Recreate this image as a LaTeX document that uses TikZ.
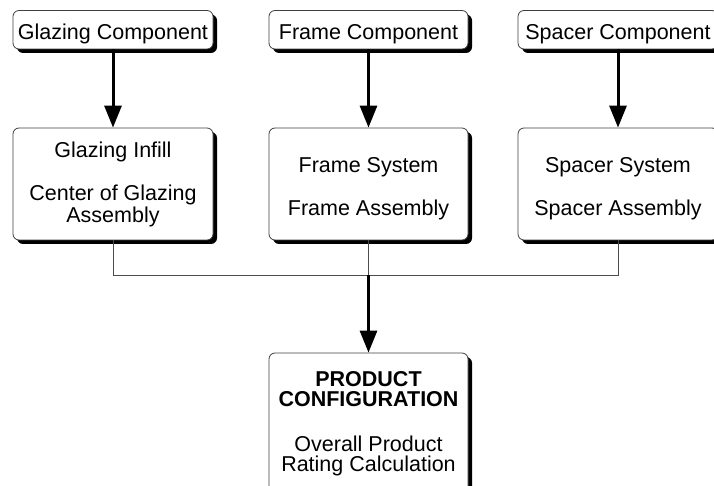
\documentclass[tikz,border=0pt]{standalone}
\usepackage{fontspec}
\setmainfont{Liberation Sans}
\usetikzlibrary{arrows.meta,shadows}
\begin{document}
\begin{tikzpicture}[x=1pt,y=-1pt,
  box/.style={draw=black!75, line width=0.8pt, rounded corners=6pt, fill=white,
    drop shadow={shadow xshift=4pt, shadow yshift=-4pt, opacity=1, fill=black},
    minimum width=200pt, inner sep=0pt},
  txt/.style={anchor=base, inner sep=0pt, font=\fontsize{21.5}{22}\selectfont},
  btxt/.style={txt, font=\fontsize{21.5}{22}\selectfont\bfseries},
  arr/.style={line width=3pt, -{Triangle[length=22pt,width=17pt]}},
  conn/.style={line width=1pt, draw=black!70}]
\useasboundingbox (0,0) rectangle (714,486);
% top row
\node[box, minimum height=38.5pt] (g1) at (113,29.75) {};
\node[box, minimum height=38.5pt, minimum width=199pt] (f1) at (368.5,29.75) {};
\node[box, minimum height=38.5pt] (s1) at (618,29.75) {};
% middle row
\node[box, minimum height=112pt] (g2) at (113,184) {};
\node[box, minimum height=112pt, minimum width=199pt] (f2) at (368.5,184) {};
\node[box, minimum height=112pt] (s2) at (618,184) {};
% bottom
\node[box, minimum height=167pt, minimum width=199pt] (pc) at (368.5,436.5) {};
% texts
\node[txt] (tg1) at (113,39.3) {Glazing Component};
\node[txt] (tf1) at (368.5,39.3) {Frame Component};
\node[txt] (ts1) at (618,39.3) {Spacer Component};
\node[txt] (tg2a) at (113,157.5) {Glazing Infill};
\node[txt] (tg2b) at (113,200.5) {Center of Glazing};
\node[txt] (tg2c) at (113,222.5) {Assembly};
\node[txt] (tf2a) at (368.5,172.3) {Frame System};
\node[txt] (tf2b) at (368.5,215.7) {Frame Assembly};
\node[txt] (ts2a) at (618,172.3) {Spacer System};
\node[txt] (ts2b) at (618,215.7) {Spacer Assembly};
\node[btxt] (tpa) at (368.5,386) {PRODUCT};
\node[btxt] (tpb) at (368.5,406.7) {CONFIGURATION};
\node[txt] (tpc) at (368.5,451) {Overall Product};
\node[txt] (tpd) at (368.5,471.7) {Rating Calculation};
% connectors
\coordinate (j) at (368.5,275);
\draw[arr] (g1.south) -- (g2.north);
\draw[arr] (f1.south) -- (f2.north);
\draw[arr] (s1.south) -- (s2.north);
\draw[conn] (g2.south) -- (g2.south |- j) -- (s2.south |- j) -- (s2.south);
\draw[conn] (f2.south) -- (j);
\draw[arr] (j) -- (pc.north);
\end{tikzpicture}
\end{document}
